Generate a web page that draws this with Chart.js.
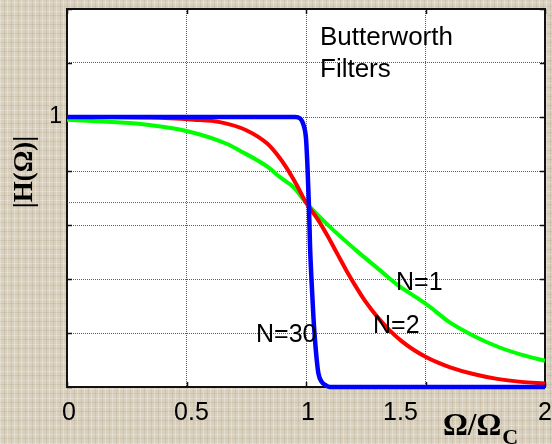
<!DOCTYPE html>
<html>
<head>
<meta charset="utf-8">
<script src="https://cdn.jsdelivr.net/npm/chart.js@4.4.1/dist/chart.umd.min.js"></script>
<style>
  html, body { margin: 0; padding: 0; }
  body {
    width: 552px; height: 444px; overflow: hidden;
    background-color: #d8cfbd;
    background-image:
      repeating-linear-gradient(90deg, rgba(255,255,255,0.28) 0 1px, transparent 1px 4px, rgba(110,90,60,0.10) 4px 5px, transparent 5px 7px),
      repeating-linear-gradient(0deg, rgba(255,255,255,0.24) 0 1px, transparent 1px 5px, rgba(110,90,60,0.10) 5px 6px, transparent 6px 9px);
  }
  canvas { position: absolute; left: 0; top: 0; }
</style>
</head>
<body>
<canvas id="c" width="552" height="444"></canvas>
<script>
// Normalised frequency axis and tick labels
const xTicks = [0, 0.5, 1, 1.5, 2];
const xTickText = ['0', '0.5', '1', '1.5', '2'];
const yLabelled = [1];

// N = 1
const n1Freq = [0, 0.11, 0.3, 0.5, 0.67, 0.72, 0.84, 0.89, 0.95, 1.0, 1.1, 1.21, 1.31, 1.38, 1.48, 1.52, 1.6, 1.7, 1.8, 1.9, 2.0];
const n1Gain = [0.99, 0.985, 0.975, 0.948, 0.90, 0.877, 0.815, 0.778, 0.738, 0.683, 0.593, 0.506, 0.432, 0.38, 0.321, 0.296, 0.24, 0.19, 0.15, 0.12, 0.097];

// N = 2
const n2Freq = [0, 0.35, 0.53, 0.64, 0.75, 0.84, 0.88, 0.92, 0.96, 1.0, 1.05, 1.09, 1.13, 1.17, 1.21, 1.25, 1.3, 1.35, 1.4, 1.45, 1.5, 1.55, 1.6, 1.7, 1.8, 1.9, 2.0];
const n2Gain = [1.0, 0.998, 0.99, 0.981, 0.951, 0.90, 0.86, 0.81, 0.75, 0.683, 0.62, 0.56, 0.495, 0.43, 0.37, 0.315, 0.258, 0.21, 0.17, 0.138, 0.112, 0.091, 0.074, 0.048, 0.03, 0.019, 0.013];

// N = 30
const n30Freq = [0, 0.955, 0.975, 0.99, 1.0, 1.006, 1.012, 1.017, 1.024, 1.031, 1.038, 1.045, 1.052, 1.065, 1.085, 1.1, 2.0];
const n30Gain = [1.0, 1.0, 0.995, 0.97, 0.92, 0.82, 0.68, 0.52, 0.38, 0.26, 0.17, 0.10, 0.05, 0.02, 0.005, 0, 0];

// level where the curves cross at the cutoff
const crossFreq = [0, 1];
const crossGain = [0.683, 0.683];

const pts = (xs, ys) => xs.map((x, i) => ({ x: x, y: ys[i] }));

const gridColor = 'rgba(40,40,40,0.75)';
const sansFont = '"Liberation Sans", Arial, sans-serif';
const serifFont = '"Liberation Serif", "Times New Roman", serif';

// horizontal nudges for the frequency labels (the 1.5 label sits left of its grid line)
const xLabelNudge = [2, 5, 2, -25, 0];

const frame = {
  id: 'frame',
  beforeDraw(chart) {
    const { ctx, chartArea: a } = chart;
    ctx.save();
    ctx.fillStyle = '#ffffff';
    ctx.fillRect(a.left, a.top, a.right - a.left, a.bottom - a.top);
    ctx.restore();
  },
  beforeDatasetsDraw(chart) {
    const { ctx, chartArea: a, scales } = chart;
    ctx.save();
    ctx.strokeStyle = '#111';
    ctx.lineWidth = 2;
    ctx.strokeRect(a.left, a.top, a.right - a.left, a.bottom - a.top);
    // inward tick marks
    ctx.lineWidth = 1.5;
    const tl = 5;
    scales.y.ticks.forEach(t => {
      const y = Math.round(scales.y.getPixelForValue(t.value)) + 0.5;
      ctx.beginPath();
      ctx.moveTo(a.left, y); ctx.lineTo(a.left + tl, y);
      ctx.moveTo(a.right, y); ctx.lineTo(a.right - tl, y);
      ctx.stroke();
    });
    scales.x.ticks.forEach(t => {
      const x = Math.round(scales.x.getPixelForValue(t.value)) + 0.5;
      ctx.beginPath();
      ctx.moveTo(x, a.bottom); ctx.lineTo(x, a.bottom - tl);
      ctx.moveTo(x, a.top); ctx.lineTo(x, a.top + tl);
      ctx.stroke();
    });
    ctx.restore();
  },
  afterDraw(chart) {
    const { ctx, chartArea: a, scales } = chart;
    ctx.save();
    ctx.fillStyle = '#000';
    ctx.textBaseline = 'alphabetic';

    // frequency tick labels
    ctx.textAlign = 'center';
    ctx.font = '25px ' + sansFont;
    xTicks.forEach((v, i) => {
      ctx.fillText(xTickText[i], scales.x.getPixelForValue(v) + xLabelNudge[i], a.bottom + 33);
    });

    ctx.textAlign = 'left';
    ctx.font = '26px ' + sansFont;
    ctx.fillText('Butterworth', 320, 45);
    ctx.fillText('Filters', 320, 77);
    ctx.font = '25px ' + sansFont;
    ctx.fillText('N=1', 396, 290);
    ctx.fillText('N=2', 373, 333);
    ctx.fillText('N=30', 256, 342);

    // x axis title
    ctx.font = 'bold 31px ' + serifFont;
    ctx.fillText('Ω/Ω', 443, 435);
    const w = ctx.measureText('Ω/Ω').width;
    ctx.font = 'bold 22px ' + serifFont;
    ctx.fillText('C', 443 + w + 1, 444);

    // y axis title
    ctx.translate(25, 172);
    ctx.rotate(-Math.PI / 2);
    ctx.textAlign = 'center';
    ctx.textBaseline = 'middle';
    ctx.font = 'bold 27px ' + serifFont;
    ctx.fillText('|H(Ω)|', 0, 0);
    ctx.restore();
  }
};

const lineSet = (label, data, color, width) => ({
  label: label,
  data: data,
  borderColor: color,
  backgroundColor: color,
  borderWidth: width,
  pointRadius: 0,
  fill: false,
  cubicInterpolationMode: 'monotone',
  clip: 6
});

new Chart(document.getElementById('c'), {
  type: 'line',
  data: {
    datasets: [
      lineSet('N=30', pts(n30Freq, n30Gain), '#0000ff', 4.5),
      lineSet('N=2', pts(n2Freq, n2Gain), '#ff0000', 4),
      lineSet('N=1', pts(n1Freq, n1Gain), '#00ff00', 4),
      {
        label: 'cross',
        data: pts(crossFreq, crossGain),
        borderColor: gridColor,
        borderWidth: 1,
        borderDash: [1, 1],
        pointRadius: 0,
        fill: false
      }
    ]
  },
  options: {
    responsive: false,
    animation: false,
    layout: { padding: { top: 9, right: 7, left: 0, bottom: 0 } },
    plugins: { legend: { display: false }, tooltip: { enabled: false } },
    scales: {
      x: {
        type: 'linear',
        min: 0, max: 2,
        afterBuildTicks(s) { s.ticks = xTicks.map(v => ({ value: v })); },
        afterFit(s) { s.height = 57; s.paddingLeft = 0; s.paddingRight = 0; },
        grid: { color: gridColor, lineWidth: 1, drawTicks: false },
        border: { display: false, dash: [1, 1] },
        ticks: { display: false }
      },
      y: {
        type: 'linear',
        min: 0, max: 1.4,
        afterFit(s) { s.width = 67; s.paddingTop = 0; s.paddingBottom = 0; },
        grid: { color: gridColor, lineWidth: 1, drawTicks: false },
        border: { display: false, dash: [1, 1] },
        ticks: {
          stepSize: 0.2,
          padding: 5,
          color: '#000',
          font: { family: sansFont, size: 23 },
          callback: v => yLabelled.some(t => Math.abs(t - v) < 1e-6) ? String(Math.round(v)) : ''
        }
      }
    }
  },
  plugins: [frame]
});
</script>
</body>
</html>
